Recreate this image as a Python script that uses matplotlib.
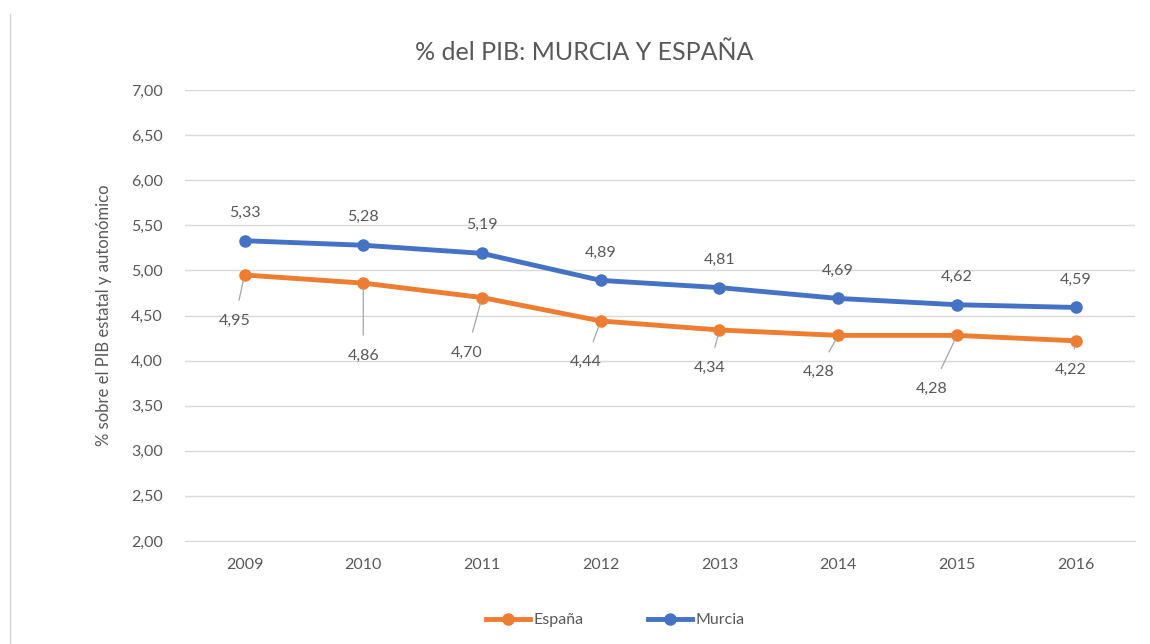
import matplotlib.pyplot as plt
from matplotlib.lines import Line2D

years = ['2009', '2010', '2011', '2012', '2013', '2014', '2015', '2016']
espana = [4.95, 4.86, 4.70, 4.44, 4.34, 4.28, 4.28, 4.22]
murcia = [5.33, 5.28, 5.19, 4.89, 4.81, 4.69, 4.62, 4.59]

# label offsets (pixels) for the España labels
esp_off = [(-10, -46), (0, -73), (-15, -55), (-15, -41), (-10, -38), (-20, -36), (-25, -53), (-5, -29)]

orange = '#ED7D31'
blue = '#4472C4'
grey = '#595959'

plt.rcParams['font.family'] = ['Lato', 'DejaVu Sans']

fig = plt.figure(figsize=(11.5, 6.44), dpi=100)
ax = fig.add_axes([0.161, 0.160, 0.826, 0.700])

x = list(range(len(years)))
ax.plot(x, espana, color=orange, lw=3.5, marker='o', ms=8, label='España', zorder=3)
ax.plot(x, murcia, color=blue, lw=3.5, marker='o', ms=8, label='Murcia', zorder=3)

for i, v in enumerate(murcia):
    ax.annotate(f'{v:.2f}'.replace('.', ','), (i, v), xytext=(0, 28),
                textcoords='offset pixels', ha='center', va='center',
                fontsize=11.5, color=grey)

for i, v in enumerate(espana):
    dx, dy = esp_off[i]
    ax.annotate(f'{v:.2f}'.replace('.', ','), (i, v), xytext=(dx, dy),
                textcoords='offset pixels', ha='center', va='center',
                fontsize=11.5, color=grey,
                arrowprops=dict(arrowstyle='-', color='#A6A6A6', lw=0.9,
                                shrinkA=8, shrinkB=4))

ax.set_xlim(-0.5, 7.5)
ax.set_ylim(2, 7)
ax.set_yticks([2 + 0.5 * k for k in range(11)])
ax.set_yticklabels([f'{2 + 0.5 * k:.2f}'.replace('.', ',') for k in range(11)])
ax.set_xticks(x)
ax.set_xticklabels(years)
ax.tick_params(length=0, labelsize=11.5, labelcolor=grey)
ax.tick_params(axis='y', pad=16)
ax.tick_params(axis='x', pad=12)
ax.grid(axis='y', color='#D9D9D9', lw=1)
ax.set_axisbelow(True)
for s in ax.spines.values():
    s.set_visible(False)
ax.spines['bottom'].set_visible(True)
ax.spines['bottom'].set_color('#D9D9D9')

ax.set_ylabel('% sobre el PIB estatal y autonómico', fontsize=12, color=grey, labelpad=14)
fig.text(0.508, 0.918, '% del PIB: MURCIA Y ESPAÑA', ha='center', va='center',
         fontsize=18, color=grey)

handles = [Line2D([], [], color=orange, lw=3.5, marker='o', ms=8),
           Line2D([], [], color=blue, lw=3.5, marker='o', ms=8)]
fig.legend(handles, ['España', 'Murcia'], loc='center', bbox_to_anchor=(0.535, 0.037),
           ncol=2, frameon=False, fontsize=11.5, labelcolor=grey,
           handlelength=2.8, columnspacing=4, handletextpad=0.2)

fig.add_artist(Line2D([10 / 1150, 10 / 1150], [0, 1 - 14 / 644],
                      transform=fig.transFigure, color='#D0D0D0', lw=1))

plt.savefig('out.png', dpi=100)
plt.close()
